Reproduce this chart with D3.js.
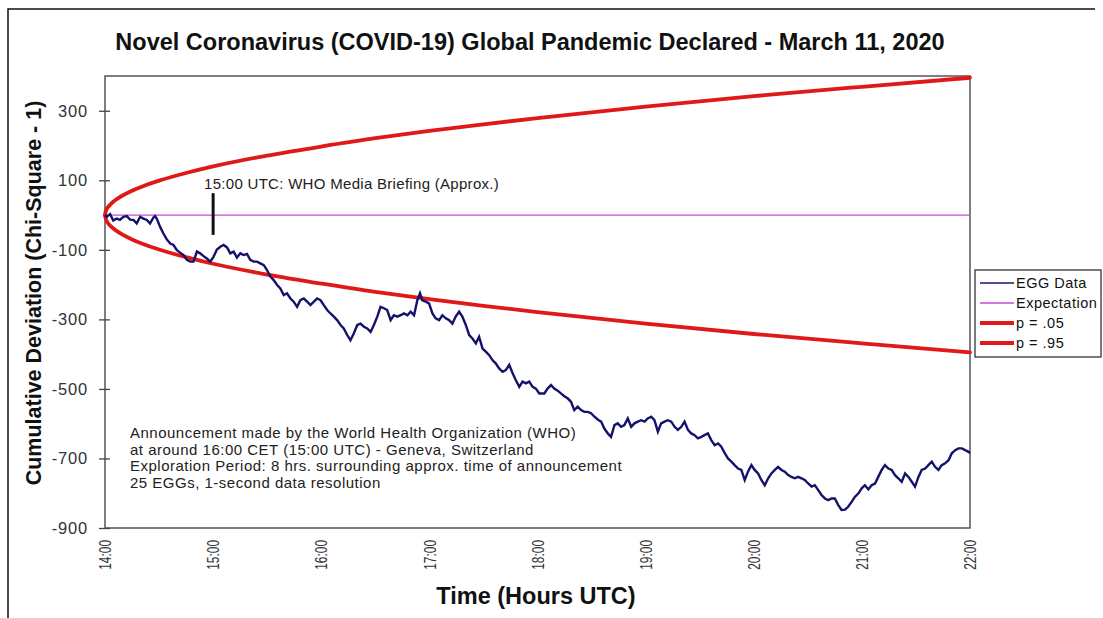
<!DOCTYPE html>
<html>
<head>
<meta charset="utf-8">
<script src="https://cdn.jsdelivr.net/npm/d3@7"></script>
<style>
  html, body { margin: 0; padding: 0; background: #fff; }
  svg { display: block; font-family: "Liberation Sans", Arial, Helvetica, sans-serif; }
</style>
</head>
<body>
<svg id="chart" width="1103" height="618"></svg>
<script>
// ---- Text ----
const titleText = "Novel Coronavirus (COVID-19) Global Pandemic Declared - March 11, 2020";
const yTitle = "Cumulative Deviation (Chi-Square - 1)";
const xTitle = "Time (Hours UTC)";
const briefingLabel = "15:00 UTC: WHO Media Briefing (Approx.)";
const noteLines = [
  "Announcement made by the World Health Organization (WHO)",
  "at around 16:00 CET (15:00 UTC) - Geneva, Switzerland",
  "Exploration Period: 8 hrs. surrounding approx. time of announcement",
  "25 EGGs, 1-second data resolution"
];
const legendLabels = ["EGG Data", "Expectation", "p = .05", "p = .95"];

// ---- Axes ----
const yTickValues = [-900, -700, -500, -300, -100, 100, 300];
const xTickMinutes = [0, 60, 120, 180, 240, 300, 360, 420, 480];
const xTickLabels = ["14:00", "15:00", "16:00", "17:00", "18:00", "19:00", "20:00", "21:00", "22:00"];
const yDomain = [-900, 400];
const xDomain = [0, 480];   // minutes after 14:00 UTC

// ---- Reference lines ----
const expectationValue = 0;
const envelopeMinutes = [0, 1, 3, 6, 10, 15, 20, 30, 45, 60, 90, 120, 150, 180, 210, 240, 300, 360, 420, 480];
const p05Values = [0, 18, 31, 44, 57, 70, 81, 99, 121, 140, 171, 197, 221, 242, 261, 279, 312, 342, 369, 395];
const p95Values = [0, -18, -31, -44, -57, -70, -81, -99, -121, -140, -171, -197, -221, -242, -261, -279, -312, -342, -369, -395];

// Briefing marker: minute and value span of the black bar
const briefingMinute = 60;
const briefingSpan = [63, -57];

// ---- EGG cumulative deviation: [minutes after 14:00, value] ----
const eggTrace = [
  [0, 0], [0.9, -5], [2.8, 3], [4.6, -16], [6.5, -10], [8.3, -14], [10.2, -5], [12.1, -3], [13.9, -13], [15.8, -14],
  [17.6, -24], [19.5, -5], [21.3, -10], [23.2, -14], [25.0, -24], [26.9, -7], [27.8, -3], [28.7, -10], [30.6, -34], [32.4, -53],
  [34.3, -70], [36.2, -82], [38.0, -86], [39.9, -101], [41.7, -108], [43.6, -115], [45.4, -129], [47.3, -134], [49.1, -134], [51.0, -105],
  [52.8, -110], [54.7, -118], [56.5, -125], [58.4, -134], [60.2, -120], [62.1, -99], [64.0, -91], [65.8, -86], [67.7, -93], [69.5, -110],
  [71.4, -105], [73.2, -122], [75.1, -110], [76.9, -115], [78.8, -112], [80.6, -129], [82.5, -134], [84.3, -134], [86.2, -139], [88.1, -144],
  [89.9, -158], [91.8, -177], [93.6, -187], [95.5, -201], [97.3, -211], [99.2, -230], [101.0, -225], [102.9, -240], [104.7, -249], [106.6, -264],
  [108.4, -245], [110.3, -240], [112.2, -249], [114.0, -259], [115.9, -249], [117.7, -240], [119.6, -245], [121.4, -259], [123.3, -273], [125.1, -283],
  [127.0, -292], [128.8, -302], [130.7, -316], [132.5, -326], [134.4, -345], [136.2, -360], [138.1, -340], [140.0, -316], [141.8, -312], [143.7, -321],
  [145.5, -326], [147.4, -336], [149.2, -316], [151.1, -292], [152.9, -264], [154.8, -268], [156.6, -273], [158.5, -302], [160.3, -288], [162.2, -292],
  [164.1, -288], [165.9, -283], [167.8, -288], [169.6, -278], [171.5, -288], [173.3, -245], [174.8, -225], [176.1, -245], [178.0, -249], [179.8, -254],
  [181.7, -283], [183.5, -297], [185.4, -302], [187.2, -288], [189.1, -297], [190.9, -302], [192.8, -312], [194.6, -292], [196.5, -278], [198.3, -292],
  [200.2, -316], [202.1, -345], [203.9, -355], [205.8, -369], [207.6, -350], [209.5, -384], [211.3, -393], [213.2, -403], [215.0, -417], [216.9, -427],
  [218.7, -441], [220.6, -451], [222.4, -446], [224.3, -431], [226.2, -455], [228.0, -475], [229.9, -494], [231.7, -479], [233.6, -484], [235.4, -479],
  [237.3, -494], [239.1, -499], [241.0, -513], [243.8, -513], [245.6, -499], [247.5, -489], [249.3, -499], [251.2, -505], [253.0, -513], [254.9, -521],
  [256.7, -527], [258.6, -537], [260.4, -561], [262.3, -551], [264.2, -561], [266.0, -566], [267.9, -566], [269.7, -570], [271.6, -580], [273.4, -588],
  [275.3, -594], [277.1, -614], [279.0, -628], [280.8, -638], [282.7, -604], [284.5, -599], [286.4, -609], [288.2, -604], [290.1, -585], [292.0, -609],
  [293.8, -599], [295.7, -594], [297.5, -590], [299.4, -594], [301.2, -585], [303.1, -580], [304.9, -590], [306.8, -623], [308.6, -599], [310.5, -594],
  [312.3, -590], [314.2, -594], [316.1, -609], [317.9, -618], [319.8, -609], [321.6, -594], [323.5, -618], [325.3, -628], [327.2, -633], [329.0, -642],
  [330.9, -638], [332.7, -633], [334.6, -628], [336.4, -647], [338.3, -662], [340.2, -657], [342.0, -666], [343.9, -685], [345.7, -700], [347.6, -709],
  [349.4, -719], [351.3, -729], [353.1, -733], [355.0, -762], [356.8, -738], [358.7, -719], [360.5, -733], [362.4, -743], [364.2, -762], [366.1, -777],
  [368.0, -757], [369.8, -743], [371.7, -733], [373.5, -724], [375.4, -733], [377.2, -738], [379.1, -748], [380.9, -753], [382.8, -757], [384.6, -753],
  [386.5, -757], [388.3, -762], [390.2, -772], [392.1, -781], [393.9, -777], [395.8, -791], [397.6, -805], [399.5, -815], [401.3, -820], [403.2, -815],
  [405.0, -815], [406.9, -834], [408.7, -848], [410.6, -847], [412.4, -839], [414.3, -825], [416.2, -810], [418.0, -801], [419.9, -786], [421.7, -777],
  [423.6, -789], [425.4, -777], [427.3, -772], [429.1, -753], [431.0, -733], [432.8, -719], [434.7, -729], [436.5, -733], [438.4, -748], [440.2, -757],
  [442.1, -767], [444.0, -743], [445.8, -753], [447.7, -767], [449.5, -781], [451.4, -753], [453.2, -733], [455.1, -729], [456.9, -719], [458.8, -709],
  [460.6, -724], [462.5, -733], [464.3, -719], [466.2, -714], [468.1, -705], [469.9, -685], [471.8, -676], [473.6, -671], [475.5, -671], [477.3, -676],
  [479.2, -681], [480, -685]
];

// ---- Colours ----
const eggColor = "#14126b";
const expectationColor = "#c84ad8";
const envelopeColor = "#e01818";

// ---- Layout ----
const plot = { left: 105, right: 970, top: 76, bottom: 528 };
const svg = d3.select("#chart");

const x = d3.scaleLinear().domain(xDomain).range([plot.left, plot.right]);
const y = d3.scaleLinear().domain(yDomain).range([plot.bottom, plot.top]);

// Outer chart border
svg.append("path")
  .attr("d", "M8,618 L8,9 L1095,9")
  .attr("fill", "none").attr("stroke", "#111").attr("stroke-width", 1.5);

// Title
svg.append("text")
  .attr("x", 530).attr("y", 50)
  .attr("text-anchor", "middle")
  .attr("font-weight", "bold").attr("font-size", 23.5)
  .attr("fill", "#111")
  .text(titleText);

// Plot frame
svg.append("rect")
  .attr("x", plot.left).attr("y", plot.top)
  .attr("width", plot.right - plot.left).attr("height", plot.bottom - plot.top)
  .attr("fill", "#fff").attr("stroke", "#555").attr("stroke-width", 1.5);

// Y axis with ticks crossing the frame (plain hyphen for negatives)
const yAxis = svg.append("g")
  .attr("transform", `translate(${plot.left},0)`)
  .call(d3.axisLeft(y).tickValues(yTickValues).tickSize(6).tickPadding(11).tickFormat(d => String(d)));
yAxis.select(".domain").remove();
yAxis.selectAll(".tick line").attr("x1", 5).attr("stroke", "#444").attr("stroke-width", 1.3);
yAxis.selectAll(".tick text")
  .attr("font-size", 16.5).attr("fill", "#333")
  .attr("letter-spacing", 0.8)
  .attr("font-family", "\"Liberation Sans\", Arial, sans-serif");

// X tick labels, rotated
svg.append("g").selectAll("text")
  .data(xTickMinutes)
  .join("text")
  .attr("transform", d => `translate(${x(d)},540) rotate(-90) scale(0.7,1)`)
  .attr("text-anchor", "end")
  .attr("dy", "0.36em")
  .attr("font-size", 17).attr("fill", "#333")
  .text((d, i) => xTickLabels[i]);

// Axis titles
svg.append("text")
  .attr("transform", `translate(41,${(plot.top + plot.bottom) / 2 - 9}) rotate(-90)`)
  .attr("text-anchor", "middle")
  .attr("font-weight", "bold").attr("font-size", 21.5).attr("fill", "#111")
  .text(yTitle);

svg.append("text")
  .attr("x", 536).attr("y", 604)
  .attr("text-anchor", "middle")
  .attr("font-weight", "bold").attr("font-size", 23.5).attr("fill", "#111")
  .text(xTitle);

// Expectation line
svg.append("line")
  .attr("x1", x(xDomain[0])).attr("x2", x(xDomain[1]))
  .attr("y1", y(expectationValue)).attr("y2", y(expectationValue))
  .attr("stroke", expectationColor).attr("stroke-width", 1.3);

// Significance envelopes
const envLine = d3.line().curve(d3.curveMonotoneY).x(d => x(d[0])).y(d => y(d[1]));
const upper = envelopeMinutes.map((m, i) => [m, p05Values[i]]).reverse();
const lower = envelopeMinutes.map((m, i) => [m, p95Values[i]]);
[upper, lower].forEach(series => {
  svg.append("path")
    .attr("d", envLine(series))
    .attr("fill", "none")
    .attr("stroke", envelopeColor).attr("stroke-width", 3.8)
    .attr("stroke-linecap", "round").attr("stroke-linejoin", "round");
});

// EGG data trace
const eggLine = d3.line().x(d => x(d[0])).y(d => y(d[1]));
svg.append("path")
  .attr("d", eggLine(eggTrace))
  .attr("fill", "none")
  .attr("stroke", eggColor).attr("stroke-width", 2.4)
  .attr("stroke-linejoin", "miter");

// Briefing marker and label
svg.append("line")
  .attr("x1", x(briefingMinute)).attr("x2", x(briefingMinute))
  .attr("y1", y(briefingSpan[0])).attr("y2", y(briefingSpan[1]))
  .attr("stroke", "#111").attr("stroke-width", 3);

svg.append("text")
  .attr("x", 204).attr("y", 189)
  .attr("font-size", 15).attr("fill", "#222")
  .attr("letter-spacing", 0.3)
  .text(briefingLabel);

// Notes block
svg.append("g").selectAll("text")
  .data(noteLines)
  .join("text")
  .attr("x", 130).attr("y", (d, i) => 438 + i * 16.5)
  .attr("font-size", 15).attr("fill", "#222")
  .attr("letter-spacing", 0.5)
  .text(d => d);

// Legend
const legend = svg.append("g").attr("transform", "translate(975,270)");
legend.append("rect")
  .attr("width", 126).attr("height", 87)
  .attr("fill", "#fff").attr("stroke", "#222").attr("stroke-width", 1.2);
const legendStyles = [
  { color: eggColor, width: 1.3 },
  { color: expectationColor, width: 1.3 },
  { color: envelopeColor, width: 3.8 },
  { color: envelopeColor, width: 3.8 }
];
legendLabels.forEach((label, i) => {
  const cy = 13 + i * 20;
  legend.append("line")
    .attr("x1", 5).attr("x2", 39).attr("y1", cy).attr("y2", cy)
    .attr("stroke", legendStyles[i].color).attr("stroke-width", legendStyles[i].width);
  legend.append("text")
    .attr("x", 41).attr("y", cy).attr("dy", "0.36em")
    .attr("font-size", 14.5).attr("fill", "#111")
    .attr("letter-spacing", 0.5)
    .text(label);
});
</script>
</body>
</html>
